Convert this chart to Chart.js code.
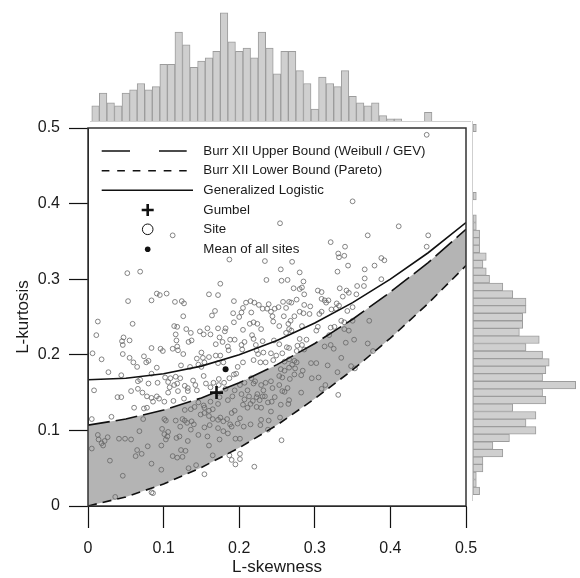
<!DOCTYPE html>
<html>
<head>
<meta charset="utf-8">
<script src="https://cdn.jsdelivr.net/npm/chart.js@4.4.1/dist/chart.umd.min.js"></script>
<style>
  body { margin: 0; background: #fff; }
  #wrap { position: relative; width: 580px; height: 578px; }
  #wrap canvas { position: absolute; }
  .base { position: absolute; background: #cfcfcf; }
</style>
</head>
<body>
<div id="wrap">
  <canvas id="main" width="580" height="578" style="left:0;top:0"></canvas>
  <canvas id="topHist" width="580" height="122" style="left:0;top:0"></canvas>
  <canvas id="rightHist" width="107" height="386" style="left:473px;top:120px"></canvas>
  <div class="base" style="left:90px;top:121px;width:381px;height:1px"></div>
  <div class="base" style="left:472px;top:121px;width:1px;height:380px"></div>
</div>
<script>
// curves on the L-moment ratio diagram
const curveSkew = [0, 0.05, 0.1, 0.15, 0.2, 0.25, 0.3, 0.35, 0.4, 0.45, 0.5];
const upperKurt = [0.107, 0.115, 0.127, 0.143, 0.163, 0.187, 0.215, 0.247, 0.283, 0.322, 0.366];
const lowerKurt = [0, 0.012, 0.029, 0.051, 0.077, 0.107, 0.142, 0.180, 0.222, 0.268, 0.318];
const gloKurt = [0.167, 0.169, 0.175, 0.185, 0.200, 0.219, 0.242, 0.269, 0.300, 0.335, 0.375];

const gumbel = [0.170, 0.150];
const siteMean = [0.182, 0.181];

const legendLabels = ["Burr XII Upper Bound (Weibull / GEV)", "Burr XII Lower Bound (Pareto)",
  "Generalized Logistic", "Gumbel", "Site", "Mean of all sites"];

// sites (L-skewness, L-kurtosis)
const siteSkew = [
  0.112,0.187,0.234,0.052,0.069,0.236,0.175,0.091,0.095,0.104,0.160,0.172,0.053,0.084,0.115,0.124,0.127,0.193,0.209,0.215,
  0.220,0.226,0.231,0.239,0.237,0.242,0.247,0.168,0.164,0.205,0.203,0.200,0.192,0.193,0.216,0.126,0.013,0.059,0.219,0.214,
  0.224,0.244,0.245,0.114,0.118,0.130,0.205,0.229,0.172,0.182,0.181,0.158,0.148,0.153,0.162,0.136,0.116,0.011,0.047,0.055,
  0.045,0.046,0.117,0.133,0.137,0.174,0.169,0.178,0.188,0.194,0.185,0.203,0.207,0.217,0.219,0.231,0.222,0.246,0.084,0.096,
  0.099,0.112,0.118,0.119,0.126,0.006,0.018,0.046,0.055,0.060,0.065,0.074,0.080,0.077,0.091,0.150,0.144,0.152,0.160,0.169,
  0.175,0.186,0.204,0.223,0.225,0.232,0.242,0.219,0.228,0.235,0.245,0.154,0.172,0.179,0.198,0.205,0.146,0.150,0.123,0.135,
  0.448,0.350,0.254,0.411,0.370,0.450,0.321,0.340,0.448,0.331,0.332,0.339,0.270,0.388,0.392,0.344,0.379,0.255,0.366,0.330,
  0.280,0.256,0.264,0.285,0.366,0.365,0.388,0.272,0.280,0.283,0.286,0.276,0.304,0.309,0.333,0.342,0.345,0.337,0.356,0.355,
  0.309,0.313,0.318,0.315,0.258,0.266,0.269,0.262,0.252,0.286,0.294,0.329,0.332,0.328,0.322,0.309,0.306,0.350,0.343,0.280,
  0.285,0.293,0.259,0.273,
  0.027,0.044,0.066,0.069,0.084,0.080,0.092,0.102,0.106,0.109,0.116,0.122,0.114,0.118,0.108,0.139,0.142,0.132,0.144,0.128,
  0.153,0.156,0.162,0.166,0.173,0.180,0.173,0.182,0.193,0.196,0.187,0.207,0.201,0.211,0.216,0.219,0.221,0.229,0.235,0.242,
  0.232,0.244,0.234,0.224,0.008,0.057,0.066,0.072,0.078,0.084,0.091,0.094,0.101,0.113,0.127,0.039,0.044,0.106,0.119,0.132,
  0.061,0.074,0.078,0.086,0.146,0.153,0.162,0.174,0.185,0.191,0.194,0.203,0.207,0.213,0.218,0.223,0.227,0.231,0.238,0.243,
  0.247,0.205,0.211,0.215,0.223,0.229,0.128,0.136,0.141,0.154,0.160,0.165,0.172,0.175,0.172,0.179,0.184,0.190,0.194,0.201,
  0.188,0.005,0.031,0.073,0.101,0.103,0.116,0.125,0.128,0.131,0.137,0.140,0.149,0.154,0.160,0.165,0.122,0.136,0.154,0.161,
  0.172,0.179,0.190,0.198,0.206,0.215,0.228,0.239,0.098,0.106,0.101,0.105,0.103,0.117,0.121,0.132,0.068,0.057,0.041,0.049,
  0.026,0.022,0.018,0.020,0.013,0.014,0.079,0.097,0.065,0.005,0.146,0.158,0.160,0.174,0.185,0.195,0.201,0.123,0.129,0.118,
  0.125,0.063,0.071,0.029,0.084,0.112,0.165,0.187,0.201,0.190,0.201,0.195,0.220,0.097,0.133,0.143,0.154,0.046,0.084,0.086,
  0.036,0.242,0.229,0.238,
  0.268,0.265,0.253,0.283,0.304,0.302,0.321,0.326,0.335,0.339,0.350,0.372,0.262,0.269,0.266,0.339,0.345,0.319,0.280,0.289,
  0.352,0.341,0.370,0.253,0.263,0.266,0.277,0.283,0.276,0.286,0.313,0.321,0.325,0.377,0.257,0.249,0.335,0.266,0.273,0.276,
  0.260,0.270,0.295,0.302,0.317,0.348,0.353,0.255,0.260,0.266,0.274,0.284,0.330,0.253,0.257,0.267,0.273,0.282,0.296,0.305,
  0.253,0.264,0.257,0.260,0.309,0.314,0.282,0.331,0.266,0.255,0.265,0.254,0.256
];
const siteKurt = [
  0.358,0.326,0.324,0.308,0.310,0.299,0.294,0.281,0.279,0.281,0.280,0.279,0.271,0.272,0.270,0.271,0.268,0.271,0.269,0.271,
  0.269,0.266,0.261,0.267,0.261,0.257,0.261,0.258,0.252,0.262,0.256,0.250,0.255,0.243,0.256,0.251,0.244,0.241,0.243,0.241,
  0.241,0.251,0.244,0.238,0.237,0.234,0.233,0.234,0.235,0.235,0.231,0.235,0.231,0.227,0.227,0.229,0.227,0.226,0.223,0.219,
  0.218,0.213,0.219,0.217,0.219,0.223,0.214,0.217,0.220,0.220,0.211,0.213,0.217,0.226,0.221,0.218,0.213,0.219,0.209,0.208,
  0.205,0.208,0.211,0.206,0.201,0.202,0.194,0.201,0.196,0.190,0.184,0.198,0.192,0.190,0.183,0.203,0.195,0.196,0.197,0.199,
  0.199,0.206,0.207,0.206,0.201,0.203,0.202,0.193,0.190,0.190,0.193,0.190,0.189,0.190,0.184,0.190,0.187,0.184,0.186,0.184,
  0.491,0.403,0.374,0.370,0.358,0.358,0.349,0.343,0.343,0.334,0.329,0.331,0.323,0.328,0.325,0.318,0.318,0.313,0.313,0.310,
  0.309,0.298,0.299,0.297,0.301,0.291,0.300,0.288,0.287,0.289,0.280,0.273,0.285,0.283,0.288,0.285,0.282,0.277,0.291,0.280,
  0.274,0.272,0.272,0.269,0.270,0.270,0.269,0.262,0.263,0.266,0.264,0.268,0.265,0.261,0.260,0.257,0.254,0.263,0.258,0.257,
  0.255,0.254,0.251,0.251,
  0.177,0.173,0.165,0.167,0.175,0.162,0.163,0.170,0.164,0.169,0.171,0.169,0.160,0.162,0.157,0.166,0.160,0.156,0.153,0.159,
  0.172,0.162,0.157,0.163,0.168,0.163,0.160,0.155,0.174,0.175,0.169,0.163,0.160,0.153,0.169,0.162,0.165,0.160,0.163,0.165,
  0.153,0.156,0.145,0.148,0.153,0.152,0.155,0.150,0.145,0.143,0.145,0.142,0.138,0.139,0.142,0.144,0.144,0.150,0.152,0.152,
  0.130,0.129,0.130,0.138,0.137,0.133,0.138,0.144,0.140,0.145,0.153,0.148,0.141,0.145,0.139,0.144,0.140,0.145,0.137,0.138,
  0.144,0.134,0.130,0.135,0.131,0.130,0.127,0.128,0.131,0.130,0.126,0.128,0.135,0.117,0.114,0.112,0.115,0.123,0.126,0.116,
  0.108,0.115,0.118,0.115,0.115,0.113,0.113,0.115,0.113,0.110,0.112,0.108,0.121,0.123,0.119,0.115,0.105,0.101,0.104,0.107,
  0.103,0.099,0.105,0.109,0.105,0.108,0.107,0.113,0.102,0.098,0.095,0.092,0.088,0.090,0.092,0.086,0.099,0.088,0.089,0.089,
  0.091,0.086,0.083,0.080,0.094,0.088,0.079,0.080,0.074,0.076,0.094,0.092,0.080,0.088,0.096,0.089,0.089,0.074,0.073,0.064,
  0.065,0.066,0.069,0.060,0.056,0.066,0.067,0.067,0.069,0.061,0.062,0.055,0.052,0.048,0.050,0.054,0.042,0.040,0.018,0.017,
  0.012,0.125,0.114,0.101,
  0.245,0.241,0.238,0.238,0.237,0.232,0.236,0.237,0.245,0.243,0.245,0.245,0.229,0.232,0.234,0.234,0.232,0.226,0.221,0.220,
  0.220,0.216,0.215,0.214,0.210,0.209,0.212,0.213,0.205,0.207,0.211,0.213,0.208,0.205,0.202,0.199,0.196,0.194,0.192,0.190,
  0.191,0.187,0.189,0.189,0.186,0.185,0.182,0.181,0.179,0.183,0.182,0.179,0.177,0.172,0.170,0.168,0.174,0.173,0.169,0.170,
  0.160,0.156,0.152,0.151,0.155,0.160,0.150,0.147,0.140,0.134,0.135,0.117,0.087
];

// marginal histograms (bin centres and counts)
const topBins = [0.01,0.02,0.03,0.04,0.05,0.06,0.07,0.08,0.09,0.10,0.11,0.12,0.13,0.14,0.15,0.16,0.17,0.18,0.19,0.20,
  0.21,0.22,0.23,0.24,0.25,0.26,0.27,0.28,0.29,0.30,0.31,0.32,0.33,0.34,0.35,0.36,0.37,0.38,0.39,0.40,0.41,0.42,0.43,0.44,0.45];
const topCounts = [5,9,6,5,9,10,12,10,11,18,18,28,24,17,19,20,22,34,25,22,23,20,28,23,15,22,22,16,12,4,
  14,12,11,16,8,6,5,6,2,1,1,0,0,0,3];
const rightBins = [0.02,0.03,0.04,0.05,0.06,0.07,0.08,0.09,0.10,0.11,0.12,0.13,0.14,0.15,0.16,0.17,0.18,0.19,0.20,0.21,
  0.22,0.23,0.24,0.25,0.26,0.27,0.28,0.29,0.30,0.31,0.32,0.33,0.34,0.35,0.36,0.37,0.38,0.39,0.40,0.41,0.42,0.43,0.44,0.45,
  0.46,0.47,0.48,0.49,0.50];
const rightCounts = [2,1,1,3,3,9,6,11,19,16,19,12,22,21,31,21,22,23,21,16,20,14,15,15,16,16,12,9,5,4,3,4,2,2,2,1,1,0,0,1,
  0,0,0,0,0,0,0,0,1];

const FONT = "'Liberation Sans', Arial, Helvetica, sans-serif";
Chart.defaults.font.family = FONT;
Chart.defaults.color = "#1a1a1a";

const pts = (xs, ys) => xs.map((x, i) => ({ x: x, y: ys[i] }));

const frameAndLegend = {
  id: "frameAndLegend",
  afterDraw(chart) {
    const { ctx, chartArea: a } = chart;
    ctx.save();
    ctx.strokeStyle = "#333";
    ctx.lineWidth = 1.5;
    ctx.strokeRect(a.left, a.top, a.right - a.left, a.bottom - a.top);

    const x0 = a.left + 13.7, sx = a.left + 59.7, tx = a.left + 115.3;
    const rows = [23, 42.7, 62.2, 82, 101.3, 121.3].map(d => a.top + d);
    ctx.strokeStyle = "#111";
    ctx.fillStyle = "#111";
    ctx.lineWidth = 1.5;
    // line samples
    [[28.3, 29], [7.7, 7.8], []].forEach((dash, i) => {
      ctx.setLineDash(dash);
      ctx.beginPath();
      ctx.moveTo(x0, rows[i]);
      ctx.lineTo(i === 2 ? a.left + 105 : a.left + 98.7, rows[i]);
      ctx.stroke();
    });
    ctx.setLineDash([]);
    // gumbel cross
    ctx.lineWidth = 2.6;
    ctx.beginPath();
    ctx.moveTo(sx - 6, rows[3]); ctx.lineTo(sx + 6, rows[3]);
    ctx.moveTo(sx, rows[3] - 6); ctx.lineTo(sx, rows[3] + 6);
    ctx.stroke();
    // site circle
    ctx.lineWidth = 1;
    ctx.beginPath();
    ctx.arc(sx, rows[4], 5.3, 0, Math.PI * 2);
    ctx.stroke();
    // mean dot
    ctx.beginPath();
    ctx.arc(sx, rows[5], 2.8, 0, Math.PI * 2);
    ctx.fill();

    ctx.font = "13.3px " + FONT;
    ctx.fillStyle = "#1a1a1a";
    ctx.textBaseline = "middle";
    legendLabels.forEach((t, i) => ctx.fillText(t, tx, rows[i]));
    ctx.restore();
  }
};

new Chart(document.getElementById("main"), {
  type: "scatter",
  data: {
    datasets: [
      {
        type: "line", data: pts(curveSkew, upperKurt), borderWidth: 0, pointRadius: 0,
        backgroundColor: "#b4b4b4", fill: 1, order: 10
      },
      {
        type: "line", data: pts(curveSkew, lowerKurt), borderColor: "#111", borderWidth: 1.6,
        borderDash: [9, 6], pointRadius: 0, fill: false, order: 2
      },
      {
        type: "line", data: pts(curveSkew, upperKurt), borderColor: "#111", borderWidth: 1.6,
        borderDash: [22, 6], pointRadius: 0, fill: false, order: 2
      },
      {
        type: "line", data: pts(curveSkew, gloKurt), borderColor: "#111", borderWidth: 1.6,
        pointRadius: 0, fill: false, order: 2
      },
      {
        data: pts(siteSkew, siteKurt), pointRadius: 2.4, pointBorderWidth: 0.8,
        pointBorderColor: "#666", pointBackgroundColor: "rgba(0,0,0,0)", order: 5
      },
      {
        data: [{ x: gumbel[0], y: gumbel[1] }], pointStyle: "cross", pointRadius: 6.5,
        pointBorderWidth: 2.6, pointBorderColor: "#111", order: 1
      },
      {
        data: [{ x: siteMean[0], y: siteMean[1] }], pointRadius: 3, pointBorderWidth: 0,
        pointBackgroundColor: "#111", order: 1
      }
    ]
  },
  options: {
    responsive: false,
    animation: false,
    devicePixelRatio: 1,
    layout: { padding: { top: 128, right: 114, left: 0, bottom: 0 } },
    plugins: { legend: { display: false }, tooltip: { enabled: false } },
    scales: {
      x: {
        type: "linear", min: 0, max: 0.5,
        afterFit: (s) => { s.height = 72; },
        ticks: { stepSize: 0.1, padding: 11, font: { size: 16 }, color: "#1a1a1a" },
        grid: { drawOnChartArea: false, tickLength: 22, tickColor: "#111", tickWidth: 1.2 },
        border: { color: "#111", width: 1 },
        title: { display: true, text: "L-skewness", font: { size: 17 }, color: "#1a1a1a", padding: { top: 0, bottom: 0 } }
      },
      y: {
        type: "linear", min: 0, max: 0.5,
        afterFit: (s) => { s.width = 88; },
        ticks: { stepSize: 0.1, padding: 9, font: { size: 16 }, color: "#1a1a1a" },
        grid: { drawOnChartArea: false, tickLength: 19, tickColor: "#111", tickWidth: 1.2 },
        border: { color: "#111", width: 1 },
        title: { display: true, text: "L-kurtosis", font: { size: 17 }, color: "#1a1a1a", padding: { top: 13, bottom: 0 } }
      }
    }
  },
  plugins: [frameAndLegend]
});

new Chart(document.getElementById("topHist"), {
  type: "bar",
  data: {
    datasets: [{
      data: pts(topBins, topCounts), backgroundColor: "#cfcfcf", borderColor: "#9c9c9c",
      borderWidth: 1, borderSkipped: false, barPercentage: 1, categoryPercentage: 1
    }]
  },
  options: {
    responsive: false, animation: false, devicePixelRatio: 1,
    layout: { padding: { left: 88, right: 114, top: 0, bottom: 0 } },
    plugins: { legend: { display: false }, tooltip: { enabled: false } },
    scales: {
      x: { type: "linear", min: 0, max: 0.5, offset: false, display: false },
      y: { min: 0, max: 38, display: false }
    }
  }
});

new Chart(document.getElementById("rightHist"), {
  type: "bar",
  data: {
    datasets: [{
      data: rightBins.map((b, i) => ({ x: rightCounts[i], y: b })), backgroundColor: "#cfcfcf",
      borderColor: "#9c9c9c", borderWidth: 1, borderSkipped: false, barPercentage: 1, categoryPercentage: 1
    }]
  },
  options: {
    indexAxis: "y",
    responsive: false, animation: false, devicePixelRatio: 1,
    layout: { padding: 0 },
    plugins: { legend: { display: false }, tooltip: { enabled: false } },
    scales: {
      y: { type: "linear", min: 0, max: 0.5106, offset: false, display: false },
      x: { min: 0, max: 32.3, display: false }
    }
  }
});
</script>
</body>
</html>
